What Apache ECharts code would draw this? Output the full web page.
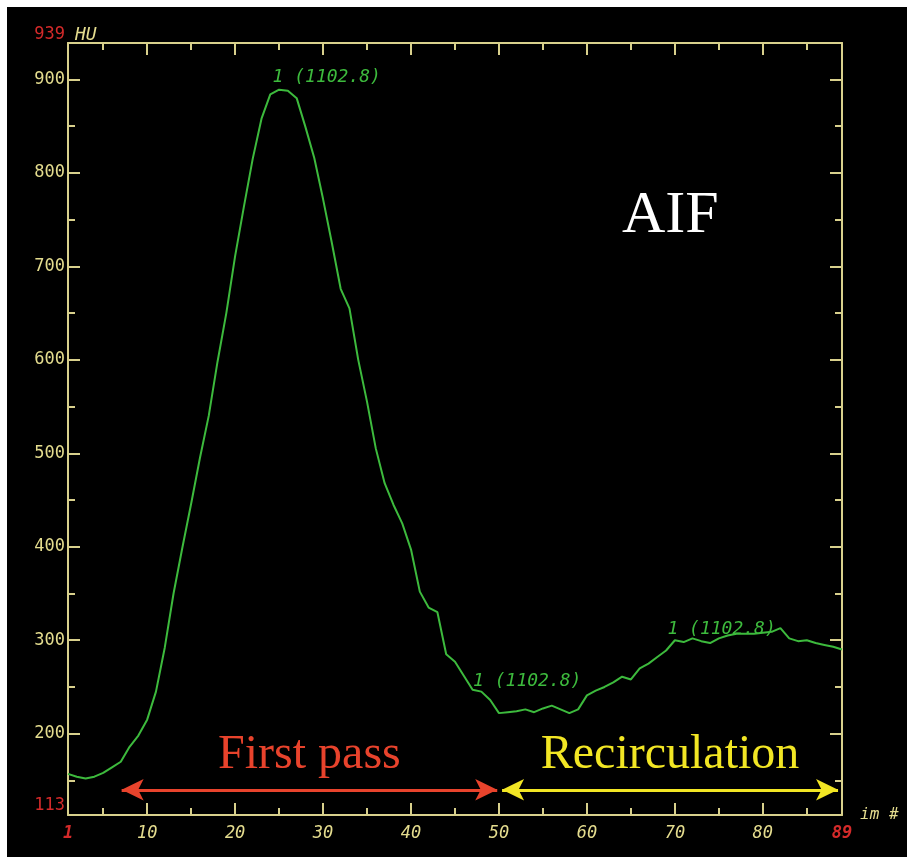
<!DOCTYPE html>
<html>
<head>
<meta charset="utf-8">
<script src="https://cdn.jsdelivr.net/npm/echarts@6/dist/echarts.min.js"></script>
<style>
  html, body { margin: 0; background: #000000; overflow: hidden; }
  #top-edge { position: absolute; left: 0; top: 0; width: 100%; height: 7px; background: #ffffff; }
  #left-edge { position: absolute; left: 0; top: 0; width: 7px; height: 100%; min-height: 857px; background: #ffffff; }
  #chart { position: absolute; left: 0; top: 0; width: 907px; height: 857px; }
</style>
</head>
<body>
<div id="top-edge"></div>
<div id="left-edge"></div>
<div id="chart"></div>
<script>
// HU value for each image number 1..89
var hu = [
  157, 154, 152, 154, 158, 164, 170, 186, 198, 215,
  245, 292, 350, 399, 446, 495, 540, 598, 650, 711,
  764, 815, 858, 884, 889, 888, 880, 849, 816, 772,
  725, 676, 655, 600, 555, 505, 468, 445, 425, 397,
  352, 335, 330, 285, 277, 262, 247, 245, 236, 222,
  223, 224, 226, 223, 227, 230, 226, 222, 226, 241,
  246, 250, 255, 261, 258, 270, 275, 282, 289, 300,
  298, 302, 299, 297, 302, 305, 307, 307, 307, 308,
  309, 313, 302, 299, 300, 297, 295, 293, 290
]
var xRange = [1, 89]
var yRange = [113, 939]
var xLabels = [1, 10, 20, 30, 40, 50, 60, 70, 80, 89]
var xMajor = [10, 20, 30, 40, 50, 60, 70, 80]
var xMinor = [5, 15, 25, 35, 45, 55, 65, 75, 85]
var yLabels = [113, 200, 300, 400, 500, 600, 700, 800, 900, 939]
var yMajor = [200, 300, 400, 500, 600, 700, 800, 900]
var yMinor = [150, 250, 350, 450, 550, 650, 750, 850]
// image numbers where the "1 (1102.8)" cursor labels sit
var cursorFrames = [25, 47, 70]
var cursorText = '1 (1102.8)'
var firstPass = [7.1, 49.8]
var recirculation = [50.35, 88.55]
var arrowLevel = 140

var axisColor = '#d8d08c'
var labelColor = '#e4dc8e'
var redColor = '#d42a2a'
var curveColor = '#3dba3d'
var mono = 'DejaVu Sans Mono'

function tickAxis(kind, position, values, len, withLine) {
  var range = kind === 'x' ? xRange : yRange
  return {
    type: 'value',
    position: position,
    min: range[0],
    max: range[1],
    axisLine: { show: withLine, lineStyle: { color: axisColor, width: 2 } },
    axisTick: { show: true, inside: true, length: len, customValues: values, lineStyle: { color: axisColor, width: 2 } },
    axisLabel: { show: false },
    splitLine: { show: false }
  }
}

var chart = echarts.init(document.getElementById('chart'))

var xMain = tickAxis('x', 'bottom', xMajor, 12, true)
xMain.axisLabel = {
  show: true,
  customValues: xLabels,
  margin: 10,
  color: labelColor,
  fontFamily: mono,
  fontSize: 17,
  fontStyle: 'italic',
  formatter: function (v) {
    if (v === xRange[0] || v === xRange[1]) return '{r|' + v + '}'
    return v
  },
  rich: { r: { color: redColor, fontFamily: mono, fontSize: 17, fontWeight: 'bold' } }
}
xMain.name = 'im #'
xMain.nameLocation = 'end'
xMain.nameGap = 18
xMain.nameTextStyle = { color: labelColor, fontFamily: mono, fontSize: 16, fontStyle: 'italic', padding: [34, 0, 0, 0] }

var yMain = tickAxis('y', 'left', yMajor, 12, true)
yMain.axisLabel = {
  show: true,
  customValues: yLabels,
  margin: 3,
  color: labelColor,
  fontFamily: mono,
  fontSize: 17,
  formatter: function (v) {
    if (v === yRange[0]) return '{lo|' + v + '}'
    if (v === yRange[1]) return '{hi|' + v + '}'
    return v
  },
  rich: {
    lo: { color: redColor, fontFamily: mono, fontSize: 17, padding: [0, 0, 18, 0] },
    hi: { color: redColor, fontFamily: mono, fontSize: 17, padding: [0, 0, 17, 0] }
  }
}
yMain.name = 'HU'
yMain.nameLocation = 'end'
yMain.nameGap = -1
yMain.nameTextStyle = { color: labelColor, fontFamily: mono, fontSize: 18, fontStyle: 'italic', align: 'left', padding: [0, 0, 0, 7] }

var option = {
  animation: false,
  backgroundColor: 'transparent',
  grid: { left: 68, top: 43, width: 774, height: 772, containLabel: false },
  title: {
    text: 'AIF',
    left: 617,
    top: 181,
    textStyle: { color: '#ffffff', fontFamily: 'Liberation Serif', fontSize: 60, fontWeight: 'normal' }
  },
  xAxis: [
    xMain,
    tickAxis('x', 'bottom', xMinor, 7, false),
    tickAxis('x', 'top', xMajor, 12, true),
    tickAxis('x', 'top', xMinor, 7, false)
  ],
  yAxis: [
    yMain,
    tickAxis('y', 'left', yMinor, 7, false),
    tickAxis('y', 'right', yMajor, 12, true),
    tickAxis('y', 'right', yMinor, 7, false)
  ],
  series: [
    {
      type: 'line',
      xAxisIndex: 0,
      yAxisIndex: 0,
      data: hu.map(function (v, i) { return [i + 1, v] }),
      showSymbol: false,
      lineStyle: { color: curveColor, width: 2 },
      markPoint: {
        symbol: 'circle',
        symbolSize: 1,
        itemStyle: { color: 'transparent' },
        silent: true,
        data: cursorFrames.map(function (f, k) {
          var offsets = [[-6, -12], [1, -8], [-7, -10]]
          return {
            coord: [f, hu[f - 1]],
            label: {
              show: true,
              position: offsets[k],
              align: 'left',
              verticalAlign: 'middle',
              formatter: cursorText,
              color: curveColor,
              fontFamily: mono,
              fontSize: 18,
              fontStyle: 'italic'
            }
          }
        })
      },
      markLine: {
        silent: true,
        symbol: ['arrow', 'arrow'],
        symbolSize: [16, 22],
        data: [
          [
            { coord: [firstPass[0], arrowLevel], lineStyle: { color: '#e8432c', width: 3, type: 'solid' },
              label: { show: true, position: 'middle', distance: 10, formatter: 'First pass', color: '#e8432c', fontFamily: 'Liberation Serif', fontSize: 48 } },
            { coord: [firstPass[1], arrowLevel] }
          ],
          [
            { coord: [recirculation[0], arrowLevel], lineStyle: { color: '#f2e624', width: 3, type: 'solid' },
              label: { show: true, position: 'middle', distance: 10, formatter: 'Recirculation', color: '#f2e624', fontFamily: 'Liberation Serif', fontSize: 48 } },
            { coord: [recirculation[1], arrowLevel] }
          ]
        ]
      }
    }
  ]
}

chart.setOption(option)
</script>
</body>
</html>
